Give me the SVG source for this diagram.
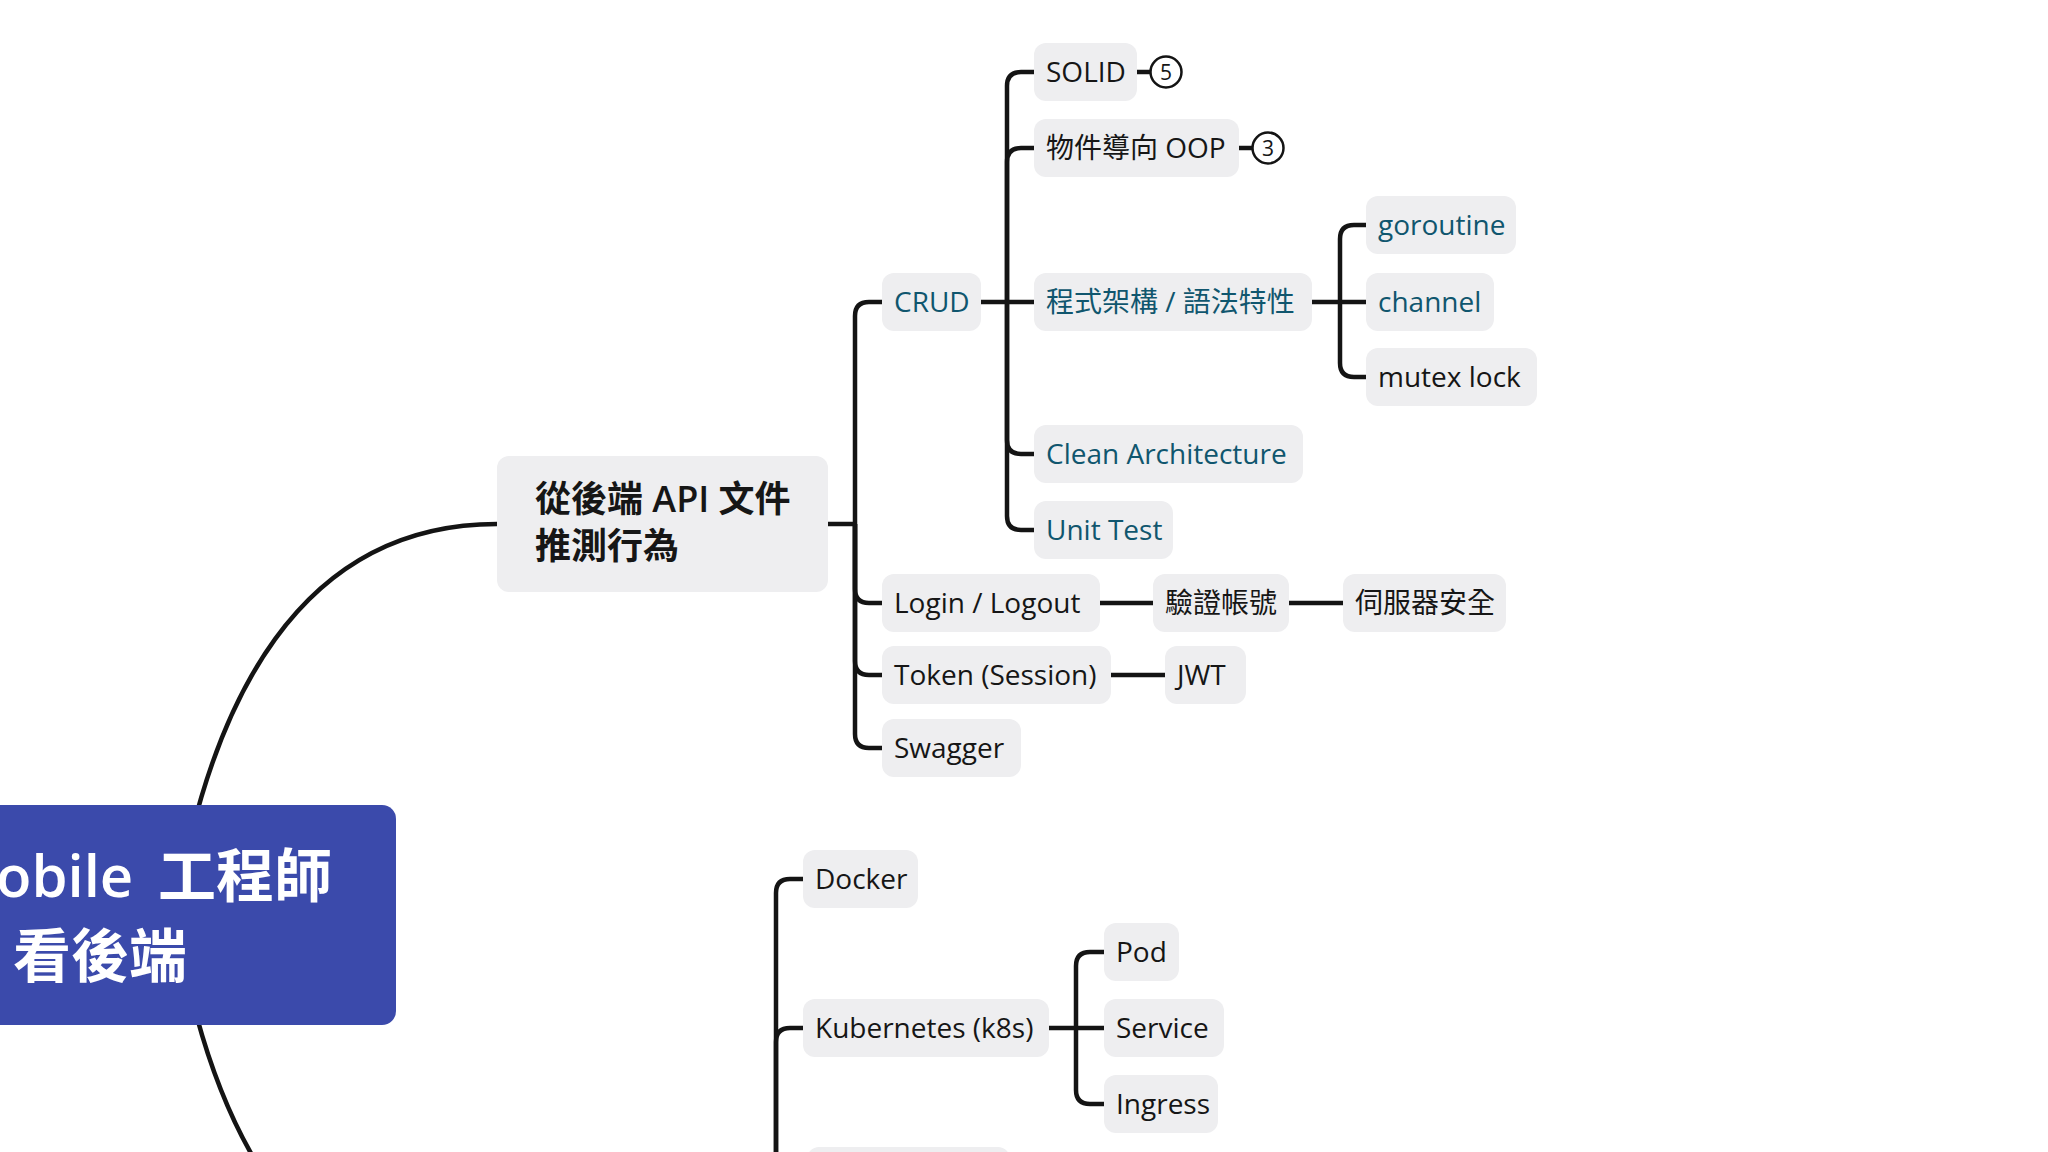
<svg xmlns="http://www.w3.org/2000/svg" width="2048" height="1152" viewBox="0 0 2048 1152">
<style>
.bg{fill:#ffffff}
.box{fill:#eeeef0}
.root{fill:#3b4aab}
.t{font-family:'Open Sans','Noto Sans CJK TC',sans-serif;font-size:28px;fill:#161616}
.teal{fill:#10566e}
.main{font-family:'Open Sans','Noto Sans CJK TC',sans-serif;font-size:36px;font-weight:600;fill:#161616}
.rt{font-family:'Open Sans','Noto Sans CJK TC',sans-serif;font-size:58px;font-weight:600;fill:#ffffff}
.ln{fill:none;stroke:#141414;stroke-width:4.5;stroke-linecap:butt}
.badge{fill:#ffffff;stroke:#141414;stroke-width:2.5}
.bt{font-family:'Open Sans',sans-serif;font-size:21px;fill:#161616;text-anchor:middle}
</style>
<rect class="bg" x="0" y="0" width="2048" height="1152"/>
<g id="connectors">
<path class="ln" d="M175,915 C210,700 300,524 497,524"/>
<path class="ln" d="M175,915 C210,1130 300,1306 497,1306"/>
<path class="ln" d="M828,524 H855"/>
<path class="ln" d="M855,524 V316 Q855,302 869,302 H882"/>
<path class="ln" d="M855,524 V589 Q855,603 869,603 H882"/>
<path class="ln" d="M855,524 V661 Q855,675 869,675 H882"/>
<path class="ln" d="M855,524 V734 Q855,748 869,748 H882"/>
<path class="ln" d="M981,302 H1034"/>
<path class="ln" d="M1007,302 V86 Q1007,72 1021,72 H1034"/>
<path class="ln" d="M1007,302 V162 Q1007,148 1021,148 H1034"/>
<path class="ln" d="M1007,302 V440 Q1007,454 1021,454 H1034"/>
<path class="ln" d="M1007,302 V516 Q1007,530 1021,530 H1034"/>
<path class="ln" d="M1137,72 H1151"/>
<path class="ln" d="M1239,148 H1253"/>
<path class="ln" d="M1312,302 H1366"/>
<path class="ln" d="M1340,302 V239 Q1340,225 1354,225 H1366"/>
<path class="ln" d="M1340,302 V363 Q1340,377 1354,377 H1366"/>
<path class="ln" d="M1100,603 H1153"/>
<path class="ln" d="M1289,603 H1343"/>
<path class="ln" d="M1111,675 H1165"/>
<path class="ln" d="M776,1160 V893 Q776,879 790,879 H803"/>
<path class="ln" d="M776,1160 V1042 Q776,1028 790,1028 H803"/>
<path class="ln" d="M1048,1028 H1104"/>
<path class="ln" d="M1076,1028 V966 Q1076,952 1090,952 H1104"/>
<path class="ln" d="M1076,1028 V1090 Q1076,1104 1090,1104 H1104"/>
</g>
<g id="root">
<rect class="root" x="-30" y="805" width="426" height="220" rx="14"/>
<text class="rt" y="897"><tspan x="-4">obile </tspan><tspan x="158">工程師</tspan></text>
<text class="rt" x="13" y="977">看後端</text>
</g>
<g id="api-doc">
<rect class="box" x="497" y="456" width="331" height="136" rx="12"/>
<text class="main" x="535" y="512">從後端 API 文件</text>
<text class="main" x="535" y="559">推測行為</text>
</g>
<g id="crud">
<rect class="box" x="882" y="273" width="99" height="58" rx="12"/>
<text class="t teal" x="894" y="312">CRUD</text>
</g>
<g id="solid">
<rect class="box" x="1034" y="43" width="103" height="58" rx="12"/>
<text class="t" x="1046" y="82">SOLID</text>
<circle class="badge" cx="1166" cy="72" r="15.5"/>
<text class="bt" x="1166" y="79.5">5</text>
</g>
<g id="oop">
<rect class="box" x="1034" y="119" width="205" height="58" rx="12"/>
<text class="t" x="1046" y="158">物件導向 OOP</text>
<circle class="badge" cx="1268" cy="148" r="15.5"/>
<text class="bt" x="1268" y="155.5">3</text>
</g>
<g id="arch">
<rect class="box" x="1034" y="273" width="278" height="58" rx="12"/>
<text class="t teal" x="1046" y="312">程式架構 / 語法特性</text>
</g>
<g id="goroutine">
<rect class="box" x="1366" y="196" width="150" height="58" rx="12"/>
<text class="t teal" x="1378" y="235">goroutine</text>
</g>
<g id="channel">
<rect class="box" x="1366" y="273" width="128" height="58" rx="12"/>
<text class="t teal" x="1378" y="312">channel</text>
</g>
<g id="mutex">
<rect class="box" x="1366" y="348" width="171" height="58" rx="12"/>
<text class="t" x="1378" y="387">mutex lock</text>
</g>
<g id="clean">
<rect class="box" x="1034" y="425" width="269" height="58" rx="12"/>
<text class="t teal" x="1046" y="464">Clean Architecture</text>
</g>
<g id="unittest">
<rect class="box" x="1034" y="501" width="139" height="58" rx="12"/>
<text class="t teal" x="1046" y="540">Unit Test</text>
</g>
<g id="login">
<rect class="box" x="882" y="574" width="218" height="58" rx="12"/>
<text class="t" x="894" y="613">Login / Logout</text>
</g>
<g id="verify">
<rect class="box" x="1153" y="574" width="136" height="58" rx="12"/>
<text class="t" x="1165" y="613">驗證帳號</text>
</g>
<g id="security">
<rect class="box" x="1343" y="574" width="163" height="58" rx="12"/>
<text class="t" x="1355" y="613">伺服器安全</text>
</g>
<g id="token">
<rect class="box" x="882" y="646" width="229" height="58" rx="12"/>
<text class="t" x="894" y="685">Token (Session)</text>
</g>
<g id="jwt">
<rect class="box" x="1165" y="646" width="81" height="58" rx="12"/>
<text class="t" x="1177" y="685">JWT</text>
</g>
<g id="swagger">
<rect class="box" x="882" y="719" width="139" height="58" rx="12"/>
<text class="t" x="894" y="758">Swagger</text>
</g>
<g id="docker">
<rect class="box" x="803" y="850" width="115" height="58" rx="12"/>
<text class="t" x="815" y="889">Docker</text>
</g>
<g id="k8s">
<rect class="box" x="803" y="999" width="246" height="58" rx="12"/>
<text class="t" x="815" y="1038">Kubernetes (k8s)</text>
</g>
<g id="pod">
<rect class="box" x="1104" y="923" width="75" height="58" rx="12"/>
<text class="t" x="1116" y="962">Pod</text>
</g>
<g id="service">
<rect class="box" x="1104" y="999" width="120" height="58" rx="12"/>
<text class="t" x="1116" y="1038">Service</text>
</g>
<g id="ingress">
<rect class="box" x="1104" y="1075" width="114" height="58" rx="12"/>
<text class="t" x="1116" y="1114">Ingress</text>
</g>
<g id="partial">
<rect class="box" x="807" y="1147" width="203" height="58" rx="12"/>
</g>
</svg>
